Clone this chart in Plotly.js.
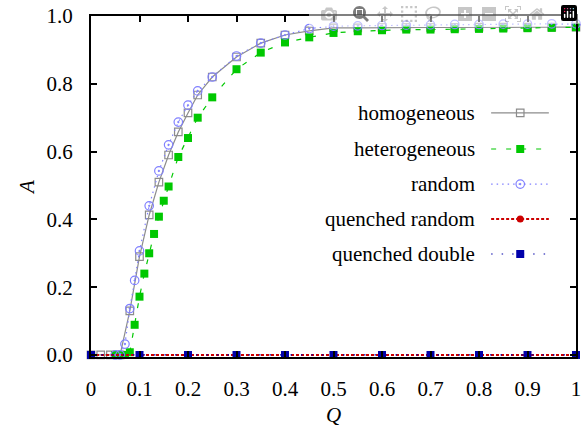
<!DOCTYPE html>
<html>
<head>
<meta charset="utf-8">
<script src="https://cdn.plot.ly/plotly-3.0.1.min.js"></script>
</head>
<body style="margin:0">
<div id="chart" style="width:583px;height:427px"></div>
<script>
// ---- data ----
const Q_hom = [0, 0.02, 0.04, 0.06, 0.08, 0.10, 0.12, 0.14, 0.16, 0.18, 0.20, 0.22, 0.25, 0.30, 0.35, 0.40, 0.45, 0.50, 0.55, 0.60, 0.65, 0.70, 0.75, 0.80, 0.85, 0.90, 0.95, 1.0];
const A_hom = [0, 0, 0, 0, 0.13, 0.29, 0.413, 0.51, 0.59, 0.658, 0.714, 0.767, 0.82, 0.879, 0.92, 0.944, 0.956, 0.965, 0.965, 0.966, 0.966, 0.966, 0.966, 0.967, 0.967, 0.967, 0.967, 0.967];

const Q_het = [0.05, 0.06, 0.07, 0.08, 0.09, 0.10, 0.11, 0.12, 0.13, 0.14, 0.15, 0.16, 0.18, 0.20, 0.22, 0.25, 0.30, 0.35, 0.40, 0.45, 0.50, 0.55, 0.60, 0.65, 0.70, 0.75, 0.80, 0.85, 0.90, 0.95, 1.0];
const A_het = [0, 0, 0, 0.008, 0.089, 0.172, 0.24, 0.30, 0.357, 0.408, 0.455, 0.497, 0.584, 0.64, 0.70, 0.76, 0.843, 0.892, 0.922, 0.937, 0.95, 0.955, 0.958, 0.96, 0.96, 0.961, 0.962, 0.963, 0.964, 0.965, 0.967];

const Q_rnd = [0.05, 0.06, 0.07, 0.08, 0.09, 0.10, 0.12, 0.14, 0.16, 0.18, 0.20, 0.22, 0.25, 0.30, 0.35, 0.40, 0.45, 0.50, 0.55, 0.60, 0.65, 0.70, 0.75, 0.80, 0.85, 0.90, 0.95, 1.0];
const A_rnd = [0, 0, 0.032, 0.137, 0.22, 0.307, 0.44, 0.543, 0.62, 0.687, 0.737, 0.779, 0.82, 0.882, 0.92, 0.944, 0.963, 0.97, 0.971, 0.972, 0.973, 0.974, 0.975, 0.975, 0.976, 0.976, 0.977, 0.977];

const Q_qr = [0, 0.1, 0.2, 0.3, 0.4, 0.5, 0.6, 0.7, 0.8, 0.9, 1.0];
const A_qr = [0, 0, 0, 0, 0, 0, 0, 0, 0, 0, 0];

const Q_qd = [0, 0.1, 0.2, 0.3, 0.4, 0.5, 0.6, 0.7, 0.8, 0.9, 1.0];
const A_qd = [0, 0, 0, 0, 0, 0, 0, 0, 0, 0, 0];

const seriesNames = ["homogeneous", "heterogeneous", "random", "quenched random", "quenched double"];

// ---- styles ----
const SERIF = "Times New Roman";
const FS = 21;
const styles = [
  {line: {color: "#8c8c8c", width: 1.2, dash: "solid"}, marker: {symbol: "square-open", size: 7.5, color: "#8c8c8c", line: {width: 1.2, color: "#8c8c8c"}}},
  {line: {color: "#00c800", width: 1.2, dash: "5px,10px"}, marker: {symbol: "square", size: 8, color: "#00c800"}},
  {line: {color: "#8080ff", width: 1.2, dash: "1.5px,4px"}, marker: {symbol: "circle-open-dot", size: 8.5, color: "#8080ff", line: {width: 1.2, color: "#8080ff"}}},
  {line: {color: "#cc0000", width: 2, dash: "3px,2px"}, marker: {symbol: "circle", size: 7, color: "#cc0000"}},
  {line: {color: "#0000aa", width: 1.2, dash: "1.5px,9px"}, marker: {symbol: "square", size: 8, color: "#0000aa"}}
];
const dataX = [Q_hom, Q_het, Q_rnd, Q_qr, Q_qd];
const dataY = [A_hom, A_het, A_rnd, A_qr, A_qd];

const traces = [];
for (let i = 0; i < 5; i++) {
  traces.push({
    x: dataX[i], y: dataY[i], type: "scatter", mode: "lines+markers",
    name: seriesNames[i], line: styles[i].line, marker: styles[i].marker,
    cliponaxis: false, showlegend: false, hoverinfo: "skip"
  });
}

// ---- custom gnuplot-style legend (text left of sample) ----
const legRows = [0.716, 0.610, 0.507, 0.405, 0.302];
const legX0 = 0.825, legX1 = 0.944, legXm = 0.885, legText = 0.796;
const annotations = [];
for (let i = 0; i < 5; i++) {
  traces.push({
    x: [legX0, legX1], y: [legRows[i], legRows[i]], xaxis: "x2", yaxis: "y2",
    type: "scatter", mode: "lines", line: styles[i].line, showlegend: false, hoverinfo: "skip"
  });
  traces.push({
    x: [legXm], y: [legRows[i]], xaxis: "x2", yaxis: "y2",
    type: "scatter", mode: "markers", marker: styles[i].marker, showlegend: false, hoverinfo: "skip"
  });
  annotations.push({
    xref: "x2", yref: "y2", x: legText, y: legRows[i], text: seriesNames[i],
    xanchor: "right", yanchor: "middle", showarrow: false,
    font: {family: SERIF, size: FS, color: "black"}
  });
}

function axisBase() {
  return {
    showline: true, linecolor: "black", linewidth: 2, mirror: "ticks",
    ticks: "inside", ticklen: 6, tickwidth: 1.5, tickcolor: "black",
    showgrid: false, zeroline: false,
    tickfont: {family: SERIF, size: FS, color: "black"}
  };
}

const xa = axisBase();
xa.range = [0, 1]; xa.dtick = 0.1; xa.tick0 = 0; xa.ticklabelstandoff = 12;
xa.title = {text: "<i>Q</i>", font: {family: SERIF, size: FS, color: "black"}, standoff: 8};

const ya = axisBase();
ya.range = [-0.006, 1.0]; ya.dtick = 0.2; ya.tick0 = 0; ya.tickformat = ".1f"; ya.ticklabelstandoff = 12;
ya.title = {text: "<i>A</i>", font: {family: SERIF, size: FS, color: "black"}, standoff: 6};

const layout = {
  width: 583, height: 427,
  margin: {l: 91, r: 7, t: 16, b: 70},
  paper_bgcolor: "white", plot_bgcolor: "white",
  showlegend: false,
  xaxis: xa,
  yaxis: ya,
  xaxis2: {overlaying: "x", range: [0, 1], visible: false, fixedrange: true},
  yaxis2: {overlaying: "y", range: [0, 1], visible: false, fixedrange: true},
  annotations: annotations
};

Plotly.newPlot("chart", traces, layout);
</script>
</body>
</html>
